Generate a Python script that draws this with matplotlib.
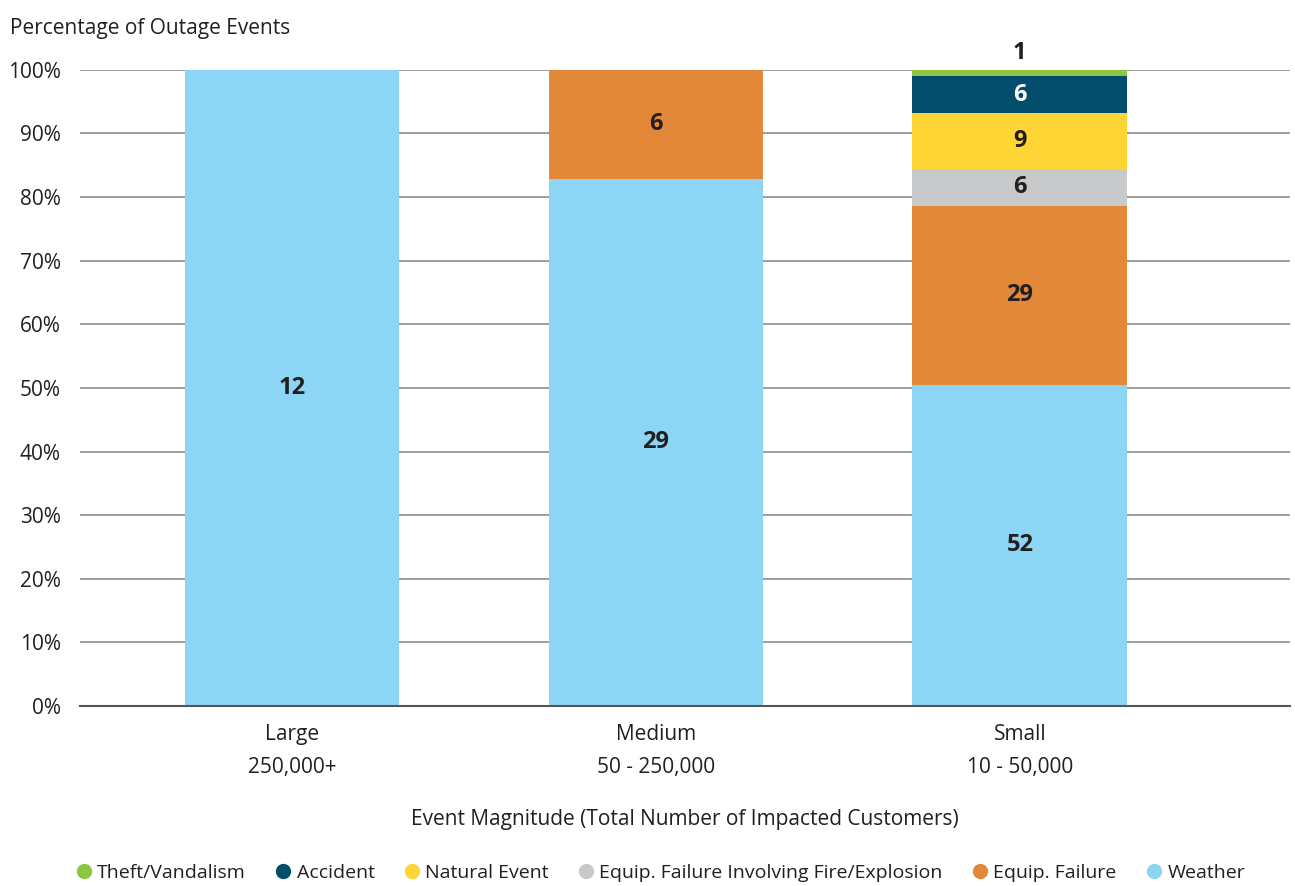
import matplotlib
matplotlib.use("Agg")
import matplotlib.pyplot as plt
from matplotlib.lines import Line2D
import numpy as np

plt.rcParams['font.family'] = ['Open Sans', 'DejaVu Sans']

# data (event counts per cause)
groups = ["Large\n250,000+", "Medium\n50 - 250,000", "Small\n10 - 50,000"]
causes = ["Weather", "Equip. Failure", "Equip. Failure Involving Fire/Explosion",
          "Natural Event", "Accident", "Theft/Vandalism"]
weather = [12, 29, 52]
equip_failure = [0, 6, 29]
equip_fire = [0, 0, 6]
natural_event = [0, 0, 9]
accident = [0, 0, 6]
theft = [0, 0, 1]

colors = ["#8dd5f4", "#e28838", "#c8c9cb", "#fed535", "#014d6b", "#8dc63f"]
text_colors = ["#231f20", "#231f20", "#231f20", "#231f20", "white", "#231f20"]

counts = np.array([weather, equip_failure, equip_fire, natural_event, accident, theft], dtype=float)
totals = counts.sum(axis=0)
pct = counts / totals * 100

fig = plt.figure(figsize=(12.95, 8.86), dpi=100)
ax = fig.add_axes([0.062, 0.2032, 0.934, 0.718])

x = np.arange(len(groups))
bottom = np.zeros(len(groups))
for i, cause in enumerate(causes):
    ax.bar(x, pct[i], bottom=bottom, width=0.59, color=colors[i],
           label=cause, zorder=3)
    for j in range(len(groups)):
        if counts[i, j] == 0:
            continue
        if pct[i, j] < 3:
            # thin slice: label goes above the bar
            ax.text(x[j], bottom[j] + pct[i, j] + 0.8, f"{int(counts[i, j])}",
                    ha="center", va="bottom", fontsize=17, fontweight="bold",
                    color=text_colors[i], clip_on=False)
        else:
            ax.text(x[j], bottom[j] + pct[i, j] / 2, f"{int(counts[i, j])}",
                    ha="center", va="center", fontsize=17, fontweight="bold",
                    color=text_colors[i], zorder=4)
    bottom += pct[i]

ax.set_xlim(-0.582, 2.742)
ax.set_ylim(0, 100)
ax.set_yticks(np.arange(0, 101, 10))
ax.set_yticklabels([f"{v}%" for v in range(0, 101, 10)])
ax.set_xticks(x)
ax.set_xticklabels(groups, linespacing=1.75)
ax.tick_params(axis="both", length=0, labelsize=15, colors="#231f20")
ax.tick_params(axis="y", pad=14)
ax.tick_params(axis="x", pad=13)
ax.yaxis.grid(True, color="#8c8c8c", linewidth=1.2, zorder=0)
for s in ["top", "right", "left"]:
    ax.spines[s].set_visible(False)
ax.spines["bottom"].set_color("#555555")
ax.spines["bottom"].set_linewidth(1.5)
ax.spines["bottom"].set_zorder(5)

ax.set_xlabel("Event Magnitude (Total Number of Impacted Customers)",
              fontsize=15, color="#231f20", labelpad=22)
fig.text(0.008, 0.968, "Percentage of Outage Events", fontsize=15,
         color="#231f20", ha="left", va="center")

markers = [Line2D([0], [0], marker="o", linestyle="", markersize=10,
                  markerfacecolor=c, markeredgecolor=c) for c in colors[::-1]]
fig.legend(markers, causes[::-1], loc="center", ncol=6,
           bbox_to_anchor=(0.51, 0.015), frameon=False, fontsize=14,
           handlelength=0.8, handletextpad=0.3, columnspacing=1.5,
           labelcolor="#231f20")

fig.savefig("out.png", dpi=100)
